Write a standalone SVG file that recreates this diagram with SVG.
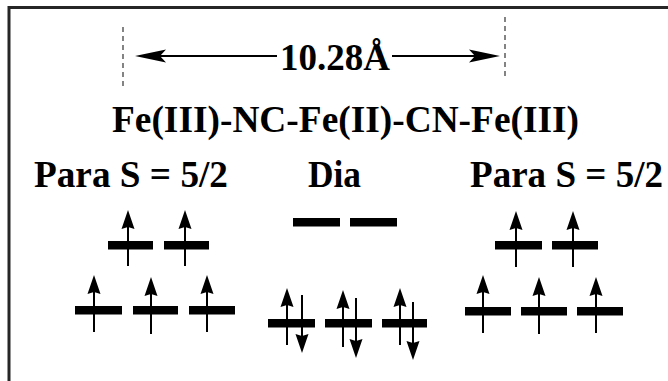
<svg xmlns="http://www.w3.org/2000/svg" width="668" height="381" viewBox="0 0 668 381">
<style>
text{font-family:"Liberation Serif","Times New Roman",serif;font-weight:bold;fill:#000}
.bar{fill:#000}
.spin{stroke:#000;stroke-width:2;fill:none;marker-end:url(#sp)}
.dash{stroke:#333;stroke-width:1.2;stroke-dasharray:5 4;fill:none}
.dim{stroke:#000;stroke-width:1.8;fill:none;marker-end:url(#dh)}
</style>
<defs>
<marker id="sp" markerUnits="userSpaceOnUse" markerWidth="20" markerHeight="14" refX="10" refY="7" orient="auto" viewBox="0 0 20 14">
<path d="M0,0.5 L19,7 L0,13.5 L2,7 z" fill="#000"/>
</marker>
<marker id="dh" markerUnits="userSpaceOnUse" markerWidth="32" markerHeight="14" refX="24" refY="7" orient="auto" viewBox="0 0 32 14">
<path d="M0,0.5 L31,7 L0,13.5 L6,7 z" fill="#000"/>
</marker>
</defs>
<rect width="668" height="381" fill="#fff"/>
<g id="frame" stroke="#262626" stroke-width="3" fill="none">
<path d="M9,381 V7.5 H668"/>
</g>
<g id="dimension">
<line class="dash" x1="123" y1="27" x2="123" y2="87"/>
<line class="dash" x1="505" y1="17" x2="505" y2="79"/>
<line class="dim" x1="277" y1="56" x2="142" y2="56"/>
<line class="dim" x1="392" y1="56" x2="493" y2="56"/>
<text x="335" y="70" font-size="37" text-anchor="middle">10.28Å</text>
</g>
<g id="title">
<text x="112" y="132" font-size="37" textLength="467" lengthAdjust="spacingAndGlyphs">Fe(III)-NC-Fe(II)-CN-Fe(III)</text>
</g>
<g id="para-left">
<text x="34" y="187" font-size="37" textLength="194" lengthAdjust="spacingAndGlyphs">Para S = 5/2</text>
<rect class="bar" x="108" y="241" width="45" height="8.5"/>
<rect class="bar" x="164" y="241" width="45" height="8.5"/>
<rect class="bar" x="75" y="306" width="47" height="8.5"/>
<rect class="bar" x="133" y="306" width="45" height="8.5"/>
<rect class="bar" x="189" y="306" width="46" height="8.5"/>
</g>
<g id="dia">
<text x="308" y="187" font-size="37" textLength="53" lengthAdjust="spacingAndGlyphs">Dia</text>
<rect class="bar" x="293" y="218" width="47" height="8.5"/>
<rect class="bar" x="350" y="218" width="47" height="8.5"/>
<rect class="bar" x="268" y="319" width="47" height="8.5"/>
<rect class="bar" x="325" y="319" width="47" height="8.5"/>
<rect class="bar" x="382" y="319" width="45" height="8.5"/>
</g>
<g id="para-right">
<text x="470" y="187" font-size="37" textLength="193" lengthAdjust="spacingAndGlyphs">Para S = 5/2</text>
<rect class="bar" x="495" y="241" width="47" height="8.5"/>
<rect class="bar" x="552" y="241" width="46" height="8.5"/>
<rect class="bar" x="465" y="307" width="46" height="8.5"/>
<rect class="bar" x="521" y="307" width="46" height="8.5"/>
<rect class="bar" x="577" y="307" width="46" height="8.5"/>
</g>
<g id="connectors">
<line class="spin" x1="128" y1="266" x2="128" y2="219"/>
<line class="spin" x1="185" y1="266" x2="185" y2="219"/>
<line class="spin" x1="94" y1="332" x2="94" y2="284"/>
<line class="spin" x1="151" y1="334" x2="151" y2="286"/>
<line class="spin" x1="207" y1="332" x2="207" y2="284"/>
<line class="spin" x1="287" y1="345" x2="287" y2="297"/>
<line class="spin" x1="343" y1="347" x2="343" y2="299"/>
<line class="spin" x1="400" y1="345" x2="400" y2="297"/>
<line class="spin" x1="302" y1="295" x2="302" y2="344"/>
<line class="spin" x1="356" y1="298" x2="356" y2="349"/>
<line class="spin" x1="413" y1="302" x2="413" y2="351"/>
<line class="spin" x1="516" y1="267" x2="516" y2="220"/>
<line class="spin" x1="573" y1="267" x2="573" y2="220"/>
<line class="spin" x1="483" y1="333" x2="483" y2="284"/>
<line class="spin" x1="539" y1="334" x2="539" y2="286"/>
<line class="spin" x1="596" y1="333" x2="596" y2="286"/>
</g>
</svg>
